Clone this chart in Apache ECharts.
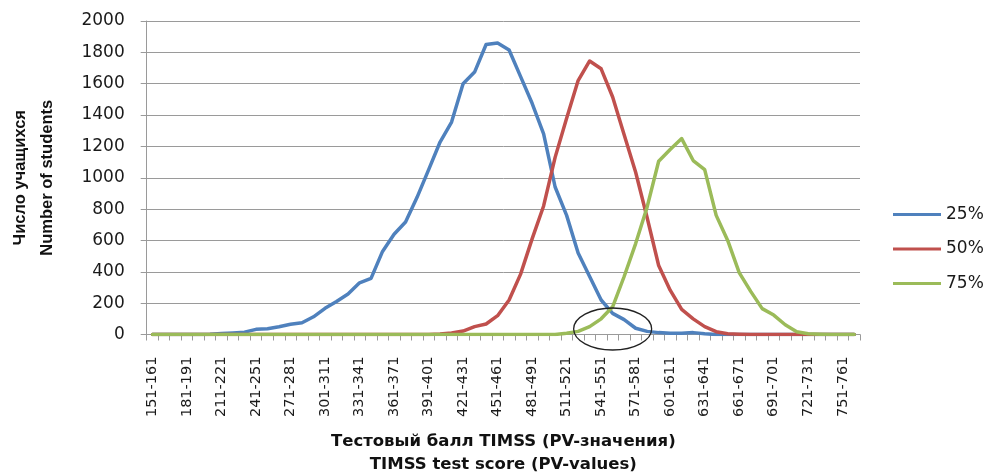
<!DOCTYPE html>
<html>
<head>
<meta charset="utf-8">
<script src="https://cdn.jsdelivr.net/npm/echarts@6/dist/echarts.min.js"></script>
<style>
html,body{margin:0;padding:0;background:#fff;}
#chart{width:987px;height:474px;}
</style>
</head>
<body>
<div id="chart"></div>
<script>
const categories = [
  '151-161','161-171','171-181','181-191','191-201','201-211','211-221','221-231','231-241','241-251',
  '251-261','261-271','271-281','281-291','291-301','301-311','311-321','321-331','331-341','341-351',
  '351-361','361-371','371-381','381-391','391-401','401-411','411-421','421-431','431-441','441-451',
  '451-461','461-471','471-481','481-491','491-501','501-511','511-521','521-531','531-541','541-551',
  '551-561','561-571','571-581','581-591','591-601','601-611','611-621','621-631','631-641','641-651',
  '651-661','661-671','671-681','681-691','691-701','701-711','711-721','721-731','731-741','741-751',
  '751-761','761-771'
];
const seriesNames = ['25%', '50%', '75%'];
const p25 = [
  0,0,0,0,0,2,6,10,15,33,
  37,50,65,75,113,167,210,258,330,358,
  530,640,718,875,1050,1228,1355,1600,1674,1850,
  1860,1815,1645,1475,1280,941,760,520,370,220,
  135,95,40,20,12,8,8,12,5,0,
  0,0,0,0,0,0,0,0,0,0,
  0,0
];
const p50 = [
  0,0,0,0,0,0,0,0,0,0,
  0,0,0,0,0,0,0,0,0,0,
  0,0,0,0,0,3,10,22,50,67,
  120,220,385,610,820,1130,1380,1620,1745,1695,
  1515,1275,1035,745,440,283,160,100,50,18,
  5,2,0,0,0,0,0,0,0,0,
  0,0
];
const p75 = [
  0,0,0,0,0,0,0,0,0,0,
  0,0,0,0,0,0,0,0,0,0,
  0,0,0,0,0,0,0,0,0,0,
  0,0,0,0,0,0,8,20,50,100,
  177,370,580,814,1105,1180,1250,1110,1052,760,
  600,395,275,165,124,62,18,5,2,0,
  0,0
];
const yTicks = [0,200,400,600,800,1000,1200,1400,1600,1800,2000];
const xTitle = 'Тестовый балл TIMSS (PV-значения)\nTIMSS test score (PV-values)';
const yTitle = 'Число учащихся\nNumber of students';
const ellipseAt = ['551-561', 35];

const colors = ['#4F81BD', '#C0504D', '#9BBB59'];
const chart = echarts.init(document.getElementById('chart'), null, {renderer: 'canvas'});
const gray = '#9a9a9a';
const option = {
  animation: false,
  backgroundColor: '#fff',
  color: colors,
  grid: {left: 146.7, right: 127, top: 21, bottom: 139.5, containLabel: false, outerBoundsMode: 'none'},
  legend: {
    orient: 'vertical',
    left: 888,
    top: 201,
    itemWidth: 48,
    itemHeight: 3,
    itemGap: 17.5,
    icon: 'rect',
    data: seriesNames,
    textStyle: {fontFamily: 'DejaVu Sans', fontSize: 17, lineHeight: 16, color: '#1a1a1a'}
  },
  xAxis: {
    type: 'category',
    data: categories,
    boundaryGap: true,
    name: xTitle,
    nameLocation: 'middle',
    nameGap: 96,
    nameTextStyle: {fontFamily: 'DejaVu Sans', fontWeight: 'bold', fontSize: 16.5, lineHeight: 23, color: '#111'},
    axisLine: {lineStyle: {color: gray, width: 1}},
    axisTick: {show: true, interval: 0, length: 6, lineStyle: {color: gray}},
    axisLabel: {interval: 2, rotate: 90, margin: 22, fontFamily: 'DejaVu Sans', fontSize: 14.5, color: '#1a1a1a'},
    splitLine: {show: false}
  },
  yAxis: {
    type: 'value',
    min: yTicks[0],
    max: yTicks[yTicks.length - 1],
    interval: yTicks[1] - yTicks[0],
    name: yTitle,
    nameLocation: 'middle',
    nameRotate: 90,
    nameGap: 86,
    nameTextStyle: {fontFamily: 'Liberation Sans', fontWeight: 'bold', fontSize: 16.5, lineHeight: 27, color: '#111'},
    axisLine: {show: true, lineStyle: {color: gray, width: 1}},
    axisTick: {show: true, length: 6, lineStyle: {color: gray}},
    axisLabel: {margin: 22, fontFamily: 'DejaVu Sans', fontSize: 17, color: '#1a1a1a', formatter: v => String(v)},
    splitLine: {show: true, lineStyle: {color: gray, width: 1}}
  },
  series: [p25, p50, p75].map((d, k) => ({
    name: seriesNames[k],
    type: 'line',
    data: d,
    symbol: 'none',
    smooth: false,
    lineStyle: {width: 3.5, color: colors[k], cap: 'round', join: 'round'},
    itemStyle: {color: colors[k]}
  }))
};
chart.setOption(option);
const c = chart.convertToPixel({gridIndex: 0}, ellipseAt);
chart.setOption({
  graphic: [{
    type: 'ellipse',
    shape: {cx: c[0], cy: c[1], rx: 39, ry: 21},
    style: {fill: 'none', stroke: '#222', lineWidth: 1.3},
    z: 100
  }]
});
</script>
</body>
</html>
